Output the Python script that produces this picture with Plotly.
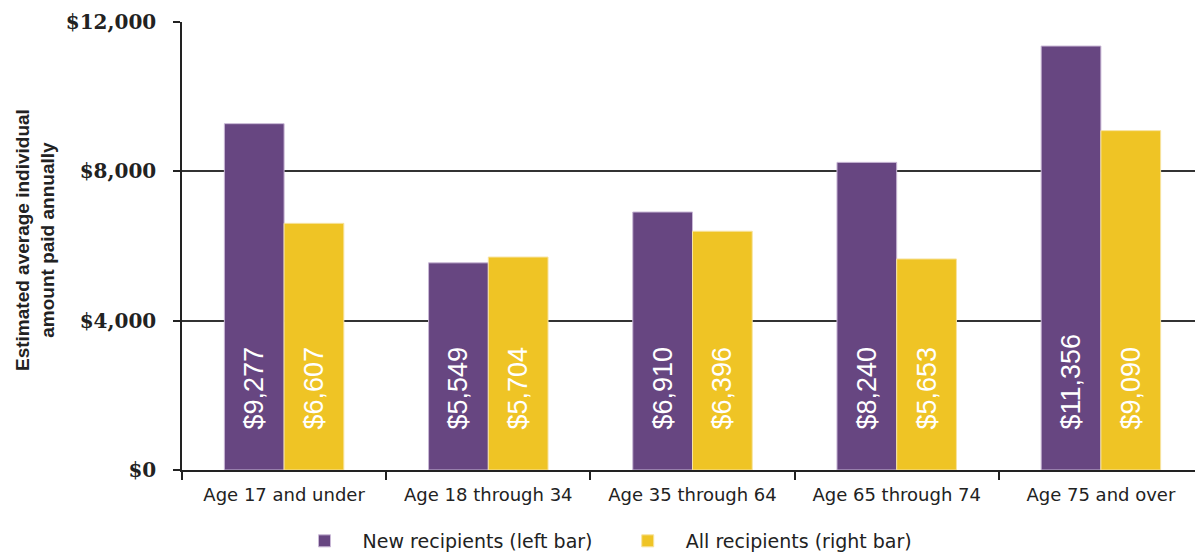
import plotly.graph_objects as go

categories = ["Age 17 and under", "Age 18 through 34", "Age 35 through 64", "Age 65 through 74", "Age 75 and over"]
new_recipients = [9277, 5549, 6910, 8240, 11356]
all_recipients = [6607, 5704, 6396, 5653, 9090]
y_ticks = [0, 4000, 8000, 12000]
y_tick_labels = ["$0", "$4,000", "$8,000", "$12,000"]

PURPLE = "#674681"
YELLOW = "#EFC425"
NB = "\u00a0"

def fmt(v):
    return NB * 5 + "${:,}".format(v)

# page has 8px body margin: figure sized so plot right edge reaches window edge
W, H = 1195, 544
L, T, R, B = 174, 14, 0, 82
PW, PH = W - L - R, H - T - B

LABEL_FONT = dict(color="white", size=27, family="Liberation Sans")

fig = go.Figure()
fig.add_trace(go.Bar(
    x=categories, y=new_recipients, name=NB * 3 + "New recipients (left bar)" + NB * 5,
    marker=dict(color=PURPLE, line=dict(color="#c9b8d6", width=1)),
    text=[fmt(v) for v in new_recipients], textposition="inside",
    insidetextanchor="start", textangle=-90, textfont=LABEL_FONT,
))
fig.add_trace(go.Bar(
    x=categories, y=all_recipients, name=NB * 3 + "All recipients (right bar)",
    marker=dict(color=YELLOW, line=dict(color="#f7e3a0", width=1)),
    text=[fmt(v) for v in all_recipients], textposition="inside",
    insidetextanchor="start", textangle=-90, textfont=LABEL_FONT,
))

fig.update_layout(
    width=W, height=H,
    margin=dict(l=L, r=R, t=T, b=B, autoexpand=False),
    paper_bgcolor="white", plot_bgcolor="white",
    barmode="group", bargap=0.415, bargroupgap=0,
    uniformtext=dict(minsize=8, mode="show"),
    showlegend=True,
    legend=dict(orientation="h", x=(603 - L) / PW, xanchor="center",
                y=(PH + T - 533) / PH, yanchor="middle",
                font=dict(family="DejaVu Sans", size=19, color="#222"),
                itemwidth=30, tracegroupgap=0),
    font=dict(family="DejaVu Sans", color="#222"),
)
fig.update_xaxes(
    showline=True, linecolor="#222", linewidth=1.5,
    ticks="outside", tickson="boundaries", ticklen=8, tickcolor="#222", tickwidth=1.5,
    ticklabelstandoff=8,
    tickfont=dict(family="DejaVu Sans", size=18, color="#222"),
    showgrid=False,
)
fig.update_yaxes(
    range=[0, 12000], tickvals=y_ticks, ticktext=y_tick_labels,
    showline=True, linecolor="#222", linewidth=1.5,
    ticks="outside", ticklen=7, tickcolor="#222", tickwidth=1.5,
    ticklabelstandoff=13,
    tickfont=dict(family="DejaVu Serif", size=20, color="#222", weight="bold"),
    showgrid=True, gridcolor="#333", gridwidth=1.5, zeroline=False,
)
fig.add_annotation(
    xref="paper", yref="paper", x=(27 - L) / PW, y=(PH + T - 232) / PH,
    text="<b>Estimated average individual<br>amount paid annually</b>",
    textangle=-90, showarrow=False, xanchor="center", yanchor="middle",
    font=dict(family="Liberation Sans", size=19, color="#222"),
)

fig.write_html("out.html")
